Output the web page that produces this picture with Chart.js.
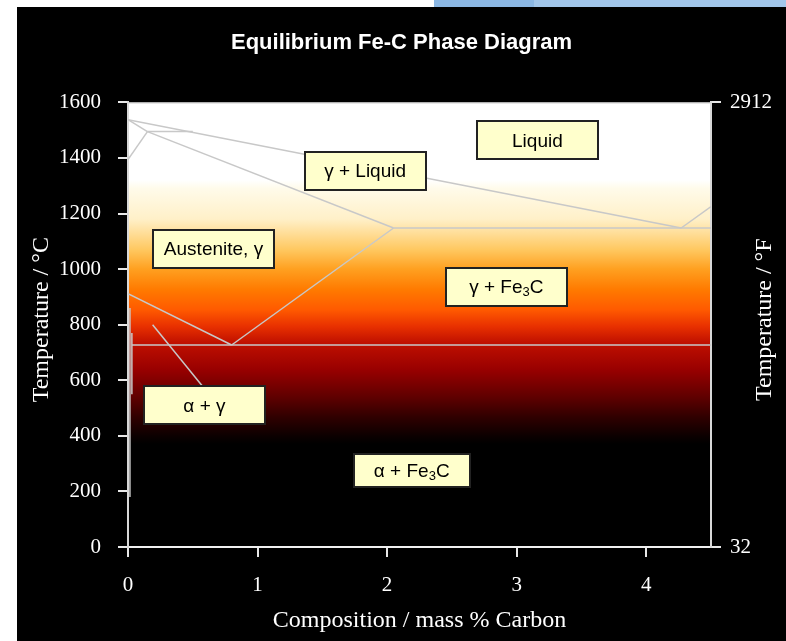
<!DOCTYPE html>
<html>
<head>
<meta charset="utf-8">
<title>Equilibrium Fe-C Phase Diagram</title>
<script src="https://cdn.jsdelivr.net/npm/chart.js@4.4.1/dist/chart.umd.min.js"></script>
<style>
  html, body { margin: 0; padding: 0; background: #fff; }
  #strip1 { position: absolute; left: 434px; top: 0; width: 100px; height: 7px; background: #8cb8e4; }
  #strip2 { position: absolute; left: 534px; top: 0; width: 252px; height: 7px; background: #a2c6ea; }
  #frame { position: absolute; left: 17px; top: 7px; width: 769px; height: 634px; background: #000; }
</style>
</head>
<body>
<div id="strip1"></div><div id="strip2"></div>
<div id="frame"><canvas id="phase" width="769" height="634"></canvas></div>
<script>
  // axis ticks
  var xTicks = [0, 1, 2, 3, 4];
  var tempTicksC = [0, 200, 400, 600, 800, 1000, 1200, 1400, 1600];
  var tempTicksF = [32, 2912];

  // phase boundaries: x = mass % C, y = °C
  var liquidus = [{ x: 0, y: 1538 }, { x: 4.27, y: 1148 }];
  var liquidusHyper = [{ x: 4.27, y: 1148 }, { x: 4.5, y: 1225 }];
  var deltaSolidus = [{ x: 0, y: 1538 }, { x: 0.15, y: 1495 }];
  var peritectic = [{ x: 0.15, y: 1495 }, { x: 0.5, y: 1495 }];
  var deltaGamma = [{ x: 0, y: 1394 }, { x: 0.15, y: 1495 }];
  var gammaSolidus = [{ x: 0.15, y: 1495 }, { x: 2.05, y: 1148 }];
  var eutectic = [{ x: 2.05, y: 1148 }, { x: 4.5, y: 1148 }];
  var acmLine = [{ x: 0.8, y: 727 }, { x: 2.05, y: 1148 }];
  var a3Line = [{ x: 0, y: 912 }, { x: 0.8, y: 727 }];
  var eutectoid = [{ x: 0.03, y: 727 }, { x: 4.5, y: 727 }];
  var alphaSolvus = [{ x: 0.015, y: 860 }, { x: 0.015, y: 180 }];
  var alphaEdge = [{ x: 0.03, y: 770 }, { x: 0.03, y: 550 }];
  var alphaGammaPointer = [{ x: 0.19, y: 800 }, { x: 0.58, y: 576 }];

  // phase field labels ("_3" = subscript) and where they sit
  var phaseNames = ['Liquid', 'γ + Liquid', 'Austenite, γ', 'γ + Fe_3C', 'α + γ', 'α + Fe_3C'];
  var phaseAtC = [3.16, 1.83, 0.66, 2.92, 0.59, 2.19];
  var phaseAtT = [1463, 1353, 1074, 937, 510, 276];

  // heat colouring of the plot area, by temperature
  var HEAT = [
    [1600, '#ffffff'], [1320, '#ffffff'], [1290, '#fffbea'], [1180, '#fff0c8'],
    [1070, '#ffc860'], [1000, '#ffa020'], [926, '#ff7a00'], [854, '#ff5a00'],
    [793, '#e83000'], [735, '#c01000'], [638, '#980000'], [541, '#600000'],
    [468, '#300000'], [396, '#0a0000'], [370, '#000000'], [0, '#000000']
  ];

  var LINE = '#c8c8c8';
  var SANS = "'Liberation Sans', Arial, sans-serif";
  var SERIF = "'Liberation Serif', 'Times New Roman', serif";

  var backdrop = {
    id: 'backdrop',
    beforeDraw: function (chart) {
      var a = chart.chartArea, ys = chart.scales.y, ctx = chart.ctx;
      var g = ctx.createLinearGradient(0, a.top, 0, a.bottom);
      HEAT.forEach(function (b) {
        var off = (ys.getPixelForValue(b[0]) - a.top) / (a.bottom - a.top);
        g.addColorStop(Math.min(1, Math.max(0, off)), b[1]);
      });
      ctx.save();
      ctx.fillStyle = g;
      ctx.fillRect(a.left, a.top, a.right - a.left, a.bottom - a.top);
      ctx.strokeStyle = '#c0c0c0';
      ctx.lineWidth = 1;
      ctx.beginPath();
      ctx.moveTo(a.left, a.top + 0.5);
      ctx.lineTo(a.right, a.top + 0.5);
      ctx.stroke();
      ctx.restore();
    }
  };

  var phaseLabels = {
    id: 'phaseLabels',
    afterDatasetsDraw: function (chart) {
      var ctx = chart.ctx, xs = chart.scales.x, ys = chart.scales.y;
      ctx.save();
      phaseNames.forEach(function (name, i) {
        var cx = xs.getPixelForValue(phaseAtC[i]);
        var cy = ys.getPixelForValue(phaseAtT[i]);
        var w = i === 5 ? 116 : 121, h = i === 5 ? 33 : 38;
        var l = Math.round(cx - w / 2), t = Math.round(cy - h / 2);
        ctx.fillStyle = '#ffffcc';
        ctx.fillRect(l, t, w, h);
        ctx.strokeStyle = '#222';
        ctx.lineWidth = 2;
        ctx.strokeRect(l, t, w, h);

        var parts = name.split(/_(\d)/);
        var total = 0;
        parts.forEach(function (p, k) {
          ctx.font = (k % 2 ? '13px ' : '19px ') + SANS;
          total += ctx.measureText(p).width;
        });
        var px = cx - total / 2;
        ctx.fillStyle = '#000';
        ctx.textBaseline = 'middle';
        ctx.textAlign = 'left';
        parts.forEach(function (p, k) {
          ctx.font = (k % 2 ? '13px ' : '19px ') + SANS;
          ctx.fillText(p, px, cy + (k % 2 ? 6 : 1));
          px += ctx.measureText(p).width;
        });
      });
      ctx.restore();
    }
  };

  // both temperature titles read bottom-to-top
  var sideTitles = {
    id: 'sideTitles',
    afterDraw: function (chart) {
      var ctx = chart.ctx, a = chart.chartArea;
      var mid = (a.top + a.bottom) / 2 - 5;
      [[25, 'Temperature / °C'], [748, 'Temperature / °F']].forEach(function (t) {
        ctx.save();
        ctx.translate(t[0], mid);
        ctx.rotate(-Math.PI / 2);
        ctx.font = '24px ' + SERIF;
        ctx.fillStyle = '#fff';
        ctx.textAlign = 'center';
        ctx.textBaseline = 'middle';
        ctx.fillText(t[1], 0, 0);
        ctx.restore();
      });
    }
  };

  function seg(points) {
    return { data: points, borderColor: LINE, borderWidth: 1.5, pointRadius: 0, showLine: true, fill: false, tension: 0 };
  }

  function fixTicks(list) {
    return function (s) { s.ticks = list.map(function (v) { return { value: v }; }); };
  }

  function plain(v) { return String(v); }

  var tickFont = { family: SERIF, size: 21 };
  var axisGrid = { drawOnChartArea: false, drawTicks: true, tickLength: 10, color: '#e8e8e8', lineWidth: 2 };

  new Chart(document.getElementById('phase'), {
    type: 'line',
    data: {
      datasets: [
        seg(liquidus), seg(liquidusHyper), seg(deltaSolidus), seg(peritectic), seg(deltaGamma),
        seg(gammaSolidus), seg(eutectic), seg(acmLine), seg(a3Line), seg(eutectoid),
        seg(alphaSolvus), seg(alphaEdge), seg(alphaGammaPointer)
      ]
    },
    options: {
      responsive: false,
      animation: false,
      events: [],
      layout: { padding: 0 },
      plugins: {
        legend: { display: false },
        tooltip: { enabled: false },
        title: {
          display: true,
          text: 'Equilibrium Fe-C Phase Diagram',
          color: '#fff',
          font: { family: SANS, size: 22, weight: 'bold' },
          padding: { top: 23, bottom: 46 }
        }
      },
      scales: {
        x: {
          type: 'linear', min: 0, max: 4.5,
          afterBuildTicks: fixTicks(xTicks),
          afterFit: function (s) { s.height = 94; },
          grid: axisGrid,
          border: { color: '#f0f0f0', width: 2 },
          ticks: { color: '#fff', padding: 16, font: tickFont, maxRotation: 0, callback: plain },
          title: { display: true, text: 'Composition / mass % Carbon', color: '#fff',
                   font: { family: SERIF, size: 24 }, padding: { top: 0, bottom: 6 } }
        },
        y: {
          type: 'linear', position: 'left', min: 0, max: 1600,
          afterBuildTicks: fixTicks(tempTicksC),
          afterFit: function (s) { s.width = 111; },
          grid: axisGrid,
          border: { color: '#d8d8d8', width: 2 },
          ticks: { color: '#fff', padding: 17, font: tickFont, callback: plain }
        },
        y2: {
          type: 'linear', position: 'right', min: 32, max: 2912,
          afterBuildTicks: fixTicks(tempTicksF),
          afterFit: function (s) { s.width = 75; },
          grid: axisGrid,
          border: { color: '#d8d8d8', width: 2 },
          ticks: { color: '#fff', padding: 9, font: tickFont, callback: plain }
        }
      }
    },
    plugins: [backdrop, phaseLabels, sideTitles]
  });
</script>
</body>
</html>
